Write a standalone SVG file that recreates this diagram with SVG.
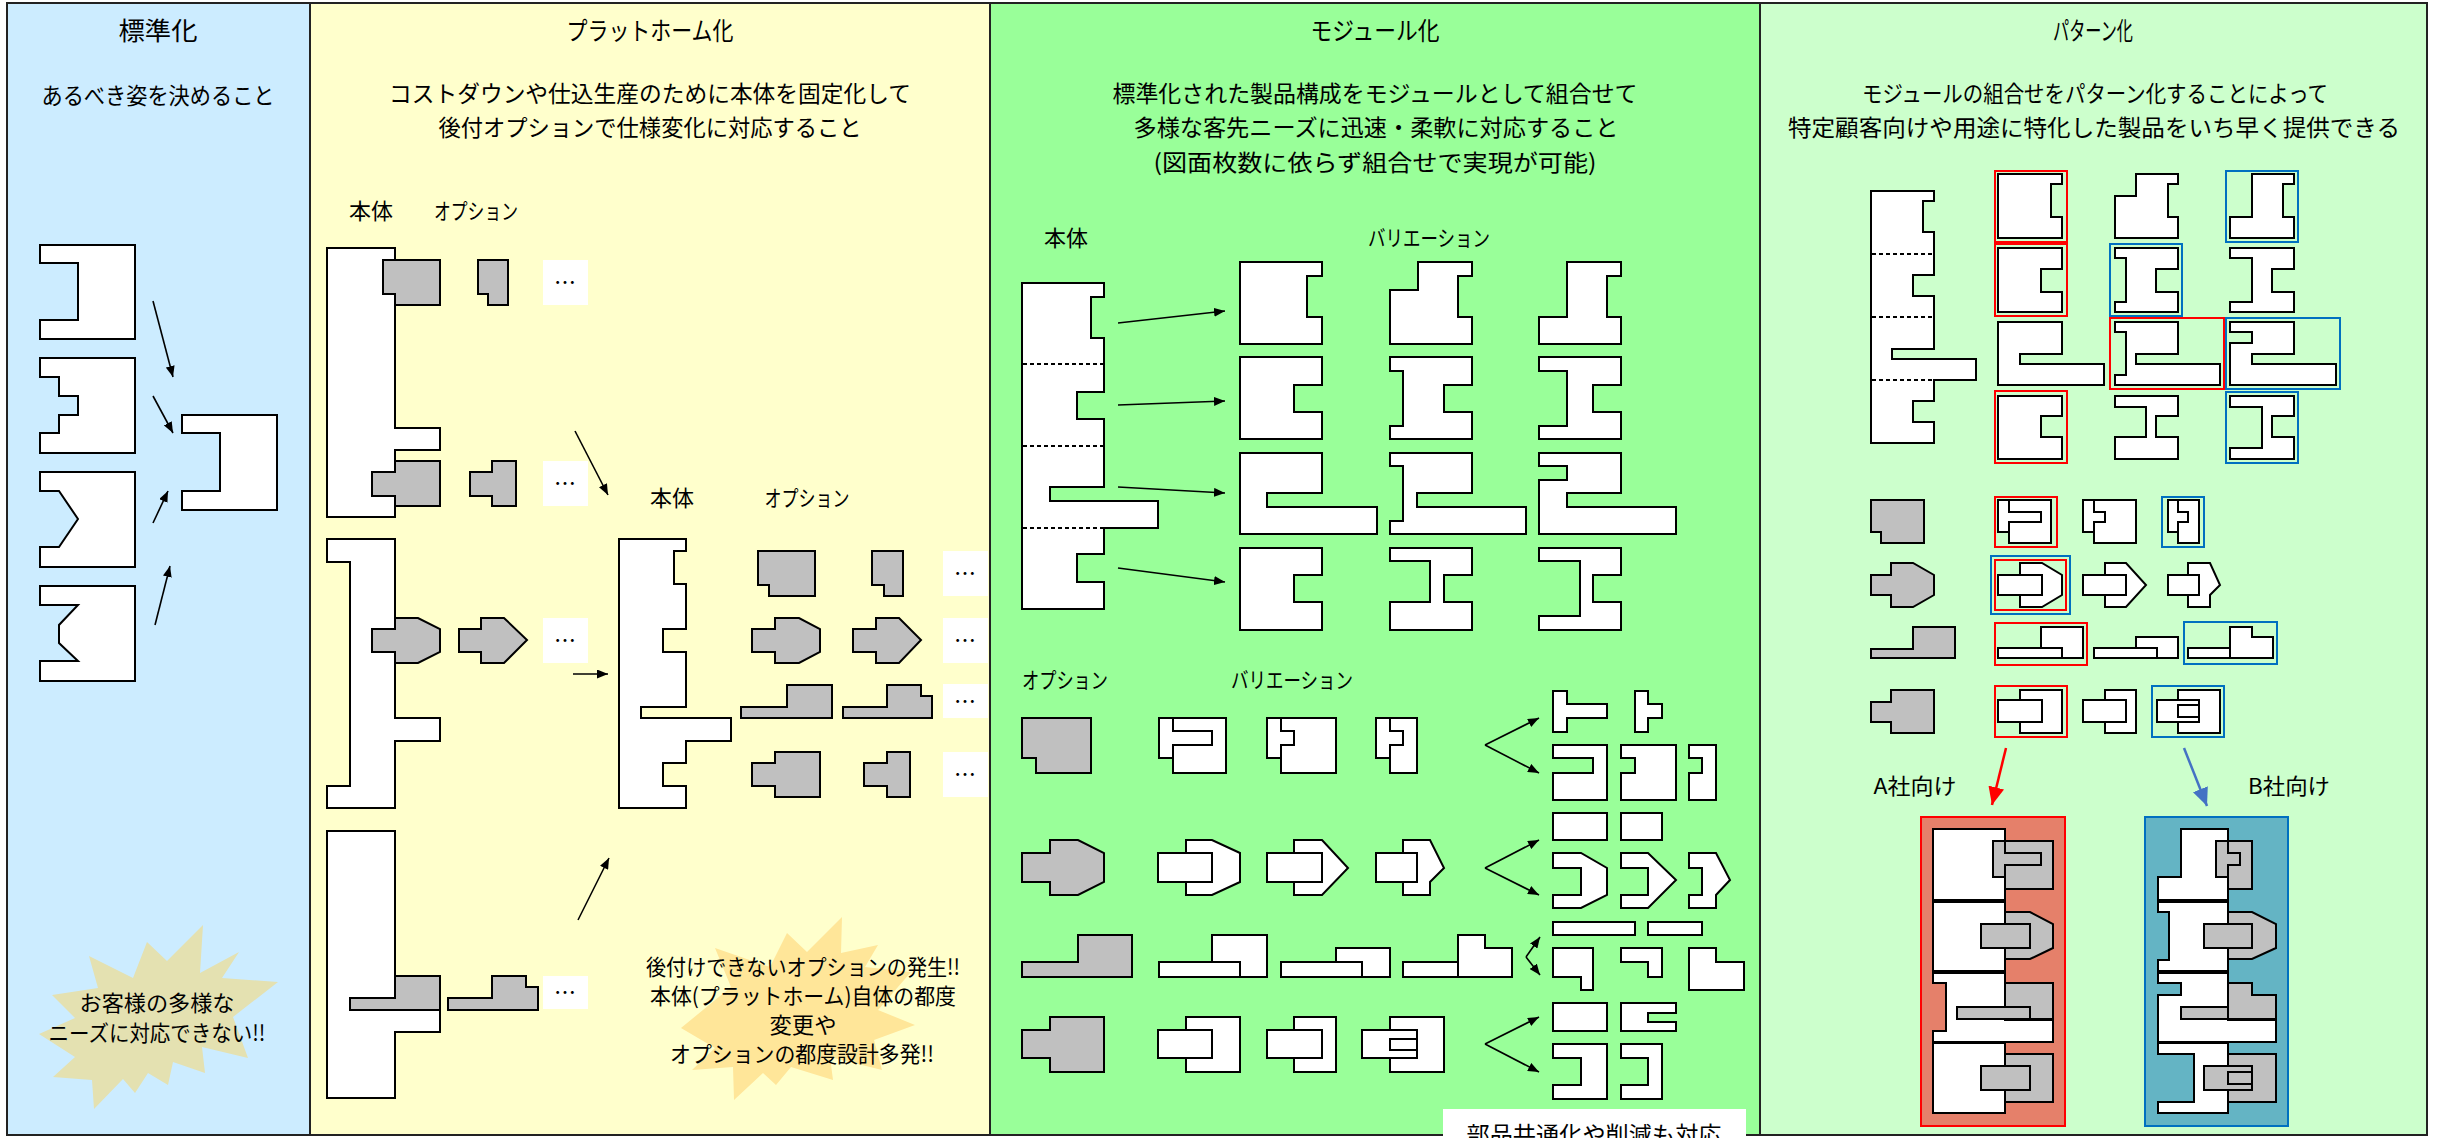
<svg xmlns="http://www.w3.org/2000/svg" width="2440" height="1138" viewBox="0 0 2440 1138">
<defs>
<style>
.pnl{stroke:#222;stroke-width:2}
.w{fill:#fff;stroke:#000;stroke-width:2}
.g{fill:#C0C0C0;stroke:#000;stroke-width:2}
.dash{stroke:#000;stroke-width:2;stroke-dasharray:4 3}
.t{font-family:"Noto Sans CJK JP","Noto Sans",sans-serif;fill:#000;text-anchor:middle}
.h{font-size:25px}
.s{font-size:23px}
.l{font-size:22px}
.dots{fill:#fff}
.dt{font-family:"Noto Sans CJK JP",sans-serif;font-size:22px;text-anchor:middle;fill:#000}
.ar{stroke:#000;stroke-width:1.6;fill:none;marker-end:url(#ah)}
.hr{fill:none;stroke:#FF0000;stroke-width:2}
.hb{fill:none;stroke:#0070C0;stroke-width:2}
</style>
<marker id="ah" markerUnits="userSpaceOnUse" markerWidth="11" markerHeight="9" refX="11" refY="4.5" orient="auto">
<path d="M0,0 L11,4.5 L0,9 z" fill="#000"/>
</marker>
<marker id="ahR" markerUnits="userSpaceOnUse" markerWidth="18" markerHeight="16" refX="18" refY="8" orient="auto">
<path d="M0,0 L18,8 L0,16 z" fill="#FF0000"/>
</marker>
<marker id="ahB" markerUnits="userSpaceOnUse" markerWidth="18" markerHeight="16" refX="18" refY="8" orient="auto">
<path d="M0,0 L18,8 L0,16 z" fill="#4472C4"/>
</marker>
</defs>

<!-- panel backgrounds -->
<g id="panels">
<rect class="pnl" x="7" y="3" width="303" height="1132" fill="#CCECFF"/>
<rect class="pnl" x="310" y="3" width="680" height="1132" fill="#FFFFCC"/>
<rect class="pnl" x="990" y="3" width="770" height="1132" fill="#99FF99"/>
<rect class="pnl" x="1760" y="3" width="667" height="1132" fill="#CCFFCC"/>
</g>

<!-- headings -->
<g id="headings">
<text class="t h" x="158" y="40" textLength="79" lengthAdjust="spacingAndGlyphs">標準化</text>
<text class="t s" x="158" y="104" textLength="233" lengthAdjust="spacingAndGlyphs">あるべき姿を決めること</text>
<text class="t h" x="650" y="40" textLength="167" lengthAdjust="spacingAndGlyphs">プラットホーム化</text>
<text class="t s" x="650" y="102" textLength="522" lengthAdjust="spacingAndGlyphs">コストダウンや仕込生産のために本体を固定化して</text>
<text class="t s" x="650" y="136" textLength="423" lengthAdjust="spacingAndGlyphs">後付オプションで仕様変化に対応すること</text>
<text class="t h" x="1375" y="40" textLength="129" lengthAdjust="spacingAndGlyphs">モジュール化</text>
<text class="t s" x="1375" y="102" textLength="525" lengthAdjust="spacingAndGlyphs">標準化された製品構成をモジュールとして組合せて</text>
<text class="t s" x="1376" y="136" textLength="485" lengthAdjust="spacingAndGlyphs">多様な客先ニーズに迅速・柔軟に対応すること</text>
<text class="t s" x="1375" y="171" textLength="443" lengthAdjust="spacingAndGlyphs">(図面枚数に依らず組合せで実現が可能)</text>
<text class="t h" x="2093" y="40" textLength="80" lengthAdjust="spacingAndGlyphs">パターン化</text>
<text class="t s" x="2095" y="102" textLength="466" lengthAdjust="spacingAndGlyphs">モジュールの組合せをパターン化することによって</text>
<text class="t s" x="2094" y="136" textLength="612" lengthAdjust="spacingAndGlyphs">特定顧客向けや用途に特化した製品をいち早く提供できる</text>
</g>

<!-- ============ panel 1 : standardisation ============ -->
<g id="std-shape-1"><polygon class="w" points="40,245 135,245 135,339 40,339 40,320 78,320 78,263 40,263"/></g>
<g id="std-shape-2"><polygon class="w" points="40,358 135,358 135,453 40,453 40,433 59,433 59,415 78,415 78,396 59,396 59,377 40,377"/></g>
<g id="std-shape-3"><polygon class="w" points="40,472 135,472 135,567 40,567 40,547 59,547 78,519 59,491 40,491"/></g>
<g id="std-shape-4"><polygon class="w" points="40,586 135,586 135,681 40,681 40,661 78,661 59,643 59,625 78,605 40,605"/></g>
<g id="std-target"><polygon class="w" points="182,415 277,415 277,510 182,510 182,491 220,491 220,433 182,433"/></g>
<g id="std-burst">
<polygon fill="#E4E1B1" points="203,925 200,973 239,952 222,978 278,982 233,1017 248,1058 202,1047 205,1073 173,1062 168,1085 148,1073 135,1093 123,1079 94,1109 92,1080 53,1077 75,1057 39,1034 75,1018 52,995 98,988 89,956 133,978 147,942 167,961"/>
<text class="t l" x="157" y="1011" textLength="155" lengthAdjust="spacingAndGlyphs">お客様の多様な</text>
<text class="t l" x="157" y="1041" textLength="217" lengthAdjust="spacingAndGlyphs">ニーズに対応できない!!</text>
</g>

<!-- ============ panel 2 : platform ============ -->
<g id="pf-labels">
<text class="t l" x="371" y="219">本体</text>
<text class="t l" x="476" y="219" textLength="84" lengthAdjust="spacingAndGlyphs">オプション</text>
<text class="t l" x="672" y="506">本体</text>
<text class="t l" x="807" y="506" textLength="85" lengthAdjust="spacingAndGlyphs">オプション</text>
</g>

<g id="pf-body-1">
<polygon class="w" points="327,248 395,248 395,428 440,428 440,450 395,450 395,517 327,517"/>
<polygon class="g" points="383,260 440,260 440,305 395,305 395,294 383,294"/>
<polygon class="g" points="395,461 440,461 440,506 395,506 395,496 372,496 372,472 395,472"/>
</g>
<g id="pf-opt-1a"><polygon class="g" points="478,260 508,260 508,305 488,305 488,294 478,294"/></g>
<g id="pf-opt-1b"><polygon class="g" points="492,461 516,461 516,506 492,506 492,496 470,496 470,472 492,472"/></g>

<g id="pf-body-2">
<polygon class="w" points="327,539 395,539 395,718 440,718 440,741 395,741 395,808 327,808 327,786 350,786 350,562 327,562"/>
<polygon class="g" points="372,629 395,629 395,618 418,618 440,629 440,652 418,663 395,663 395,652 372,652"/>
</g>
<g id="pf-opt-2"><polygon class="g" points="481,618 504,618 527,640 504,663 481,663 481,652 459,652 459,629 481,629"/></g>

<g id="pf-body-3">
<polygon class="w" points="327,831 395,831 395,1010 440,1010 440,1032 395,1032 395,1098 327,1098"/>
<polygon class="g" points="395,976 440,976 440,1010 350,1010 350,998 395,998"/>
</g>
<g id="pf-opt-3"><polygon class="g" points="492,976 526,976 526,987 538,987 538,1010 448,1010 448,998 492,998"/></g>

<g id="pf-more">
<rect class="dots" x="543" y="260" width="45" height="45"/><text class="dt" x="565" y="290">…</text>
<rect class="dots" x="543" y="461" width="45" height="45"/><text class="dt" x="565" y="491">…</text>
<rect class="dots" x="543" y="618" width="45" height="45"/><text class="dt" x="565" y="648">…</text>
<rect class="dots" x="543" y="976" width="45" height="33"/><text class="dt" x="565" y="1000">…</text>
<rect class="dots" x="943" y="551" width="45" height="45"/><text class="dt" x="965" y="581">…</text>
<rect class="dots" x="943" y="618" width="45" height="45"/><text class="dt" x="965" y="648">…</text>
<rect class="dots" x="943" y="684" width="45" height="34"/><text class="dt" x="965" y="709">…</text>
<rect class="dots" x="943" y="752" width="45" height="45"/><text class="dt" x="965" y="782">…</text>
</g>

<g id="pf-platform"><polygon class="w" points="619,539 686,539 686,551 674,551 674,584 686,584 686,629 663,629 663,652 686,652 686,707 641,707 641,718 731,718 731,741 686,741 686,763 663,763 663,786 686,786 686,808 619,808"/></g>

<g id="pf-options">
<polygon class="g" points="758,551 815,551 815,596 769,596 769,585 758,585"/>
<polygon class="g" points="872,551 903,551 903,596 884,596 884,585 872,585"/>
<polygon class="g" points="775,618 799,618 820,629 820,652 799,663 775,663 775,652 752,652 752,629 775,629"/>
<polygon class="g" points="876,618 899,618 921,640 899,663 876,663 876,652 853,652 853,629 876,629"/>
<polygon class="g" points="787,685 832,685 832,718 741,718 741,707 787,707"/>
<polygon class="g" points="887,685 921,685 921,696 932,696 932,718 843,718 843,707 887,707"/>
<polygon class="g" points="775,752 820,752 820,797 775,797 775,786 752,786 752,763 775,763"/>
<polygon class="g" points="887,752 910,752 910,797 887,797 887,786 864,786 864,763 887,763"/>
</g>

<g id="pf-burst">
<polygon fill="#FFE699" points="842,917 841,953 878,945 865,967 911,972 878,1010 915,1025 874,1040 882,1070 830,1057 833,1080 791,1067 776,1085 763,1073 734,1100 733,1067 692,1070 715,1048 681,1028 731,987 715,948 770,967 787,933 807,952"/>
<text class="t l" x="803" y="975" textLength="314" lengthAdjust="spacingAndGlyphs">後付けできないオプションの発生!!</text>
<text class="t l" x="803" y="1004" textLength="306" lengthAdjust="spacingAndGlyphs">本体(プラットホーム)自体の都度</text>
<text class="t l" x="803" y="1033" textLength="67" lengthAdjust="spacingAndGlyphs">変更や</text>
<text class="t l" x="802" y="1062" textLength="264" lengthAdjust="spacingAndGlyphs">オプションの都度設計多発!!</text>
</g>

<!-- ============ panel 3 : modularisation ============ -->
<g id="md-labels">
<text class="t l" x="1066" y="246">本体</text>
<text class="t l" x="1429" y="246" textLength="122" lengthAdjust="spacingAndGlyphs">バリエーション</text>
<text class="t l" x="1065" y="688" textLength="86" lengthAdjust="spacingAndGlyphs">オプション</text>
<text class="t l" x="1292" y="688" textLength="122" lengthAdjust="spacingAndGlyphs">バリエーション</text>
</g>

<g id="md-body">
<polygon class="w" points="1022,283 1104,283 1104,297 1091,297 1091,338 1104,338 1104,392 1077,392 1077,419 1104,419 1104,487 1050,487 1050,501 1158,501 1158,528 1104,528 1104,554 1077,554 1077,582 1104,582 1104,609 1022,609"/>
<line class="dash" x1="1023" y1="364" x2="1103" y2="364"/>
<line class="dash" x1="1023" y1="446" x2="1103" y2="446"/>
<line class="dash" x1="1023" y1="528" x2="1103" y2="528"/>
</g>

<g id="md-var-body">
<polygon class="w" points="1240,262 1322,262 1322,276 1307,276 1307,317 1322,317 1322,344 1240,344"/>
<polygon class="w" points="1418,262 1472,262 1472,276 1458,276 1458,317 1472,317 1472,344 1390,344 1390,290 1418,290"/>
<polygon class="w" points="1567,262 1621,262 1621,276 1607,276 1607,317 1621,317 1621,344 1539,344 1539,317 1567,317"/>
<polygon class="w" points="1240,357 1322,357 1322,385 1294,385 1294,412 1322,412 1322,439 1240,439"/>
<polygon class="w" points="1390,357 1472,357 1472,385 1444,385 1444,412 1472,412 1472,439 1390,439 1390,426 1403,426 1403,371 1390,371"/>
<polygon class="w" points="1539,357 1621,357 1621,385 1593,385 1593,412 1621,412 1621,439 1539,439 1539,426 1567,426 1567,371 1539,371"/>
<polygon class="w" points="1240,453 1322,453 1322,493 1267,493 1267,507 1377,507 1377,534 1240,534"/>
<polygon class="w" points="1390,453 1472,453 1472,493 1417,493 1417,507 1526,507 1526,534 1390,534 1390,521 1403,521 1403,466 1390,466"/>
<polygon class="w" points="1539,453 1621,453 1621,493 1567,493 1567,507 1676,507 1676,534 1539,534 1539,480 1567,480 1567,466 1539,466"/>
<polygon class="w" points="1240,548 1322,548 1322,575 1294,575 1294,602 1322,602 1322,630 1240,630"/>
<polygon class="w" points="1390,548 1472,548 1472,575 1444,575 1444,602 1472,602 1472,630 1390,630 1390,602 1430,602 1430,561 1390,561"/>
<polygon class="w" points="1539,548 1621,548 1621,575 1593,575 1593,602 1621,602 1621,630 1539,630 1539,616 1580,616 1580,561 1539,561"/>
</g>

<g id="md-opt-1">
<polygon class="g" points="1022,718 1091,718 1091,773 1036,773 1036,758 1022,758"/>
<polygon class="w" points="1173,718 1226,718 1226,773 1173,773 1173,745 1212,745 1212,731 1173,731"/>
<polygon class="w" points="1159,718 1173,718 1173,731 1212,731 1212,745 1173,745 1173,758 1159,758"/>
<polygon class="w" points="1281,718 1336,718 1336,773 1281,773 1281,745 1294,745 1294,731 1281,731"/>
<polygon class="w" points="1267,718 1281,718 1281,731 1294,731 1294,745 1281,745 1281,758 1267,758"/>
<polygon class="w" points="1390,718 1417,718 1417,773 1390,773 1390,745 1403,745 1403,731 1390,731"/>
<polygon class="w" points="1376,718 1390,718 1390,731 1403,731 1403,745 1390,745 1390,758 1376,758"/>
<polygon class="w" points="1553,691 1567,691 1567,704 1607,704 1607,718 1567,718 1567,732 1553,732"/>
<polygon class="w" points="1635,691 1648,691 1648,704 1662,704 1662,718 1648,718 1648,732 1635,732"/>
<polygon class="w" points="1553,745 1607,745 1607,800 1553,800 1553,773 1593,773 1593,758 1553,758"/>
<polygon class="w" points="1621,745 1676,745 1676,800 1621,800 1621,773 1635,773 1635,758 1621,758"/>
<polygon class="w" points="1689,745 1716,745 1716,800 1689,800 1689,773 1702,773 1702,758 1689,758"/>
</g>

<g id="md-opt-2">
<polygon class="g" points="1022,853 1050,853 1050,840 1078,840 1104,853 1104,882 1078,895 1050,895 1050,882 1022,882"/>
<polygon class="w" points="1186,840 1212,840 1240,853 1240,882 1212,895 1186,895 1186,882 1212,882 1212,853 1186,853"/>
<rect class="w" x="1158" y="853" width="54" height="29"/>
<polygon class="w" points="1294,840 1322,840 1348,868 1322,895 1294,895 1294,882 1322,882 1322,853 1294,853"/>
<rect class="w" x="1267" y="853" width="55" height="29"/>
<polygon class="w" points="1403,840 1430,840 1444,868 1430,882 1430,895 1403,895 1403,882 1417,882 1417,853 1403,853"/>
<rect class="w" x="1376" y="853" width="41" height="29"/>
<rect class="w" x="1553" y="813" width="54" height="27"/>
<rect class="w" x="1621" y="813" width="41" height="27"/>
<polygon class="w" points="1553,853 1581,853 1607,868 1607,895 1581,908 1553,908 1553,895 1581,895 1581,868 1553,868"/>
<polygon class="w" points="1621,853 1648,853 1676,880 1648,908 1621,908 1621,895 1648,895 1648,868 1621,868"/>
<polygon class="w" points="1689,853 1716,853 1730,880 1716,895 1716,908 1689,908 1689,895 1702,895 1702,868 1689,868"/>
</g>

<g id="md-opt-3">
<polygon class="g" points="1022,962 1078,962 1078,935 1132,935 1132,977 1022,977"/>
<polygon class="w" points="1212,935 1267,935 1267,977 1240,977 1240,962 1212,962"/>
<rect class="w" x="1159" y="962" width="81" height="15"/>
<polygon class="w" points="1336,948 1390,948 1390,977 1362,977 1362,962 1336,962"/>
<rect class="w" x="1281" y="962" width="81" height="15"/>
<polygon class="w" points="1458,935 1485,935 1485,948 1512,948 1512,977 1458,977"/>
<rect class="w" x="1403" y="962" width="55" height="15"/>
<rect class="w" x="1553" y="922" width="82" height="13"/>
<rect class="w" x="1648" y="922" width="54" height="13"/>
<polygon class="w" points="1553,948 1593,948 1593,990 1581,990 1581,977 1553,977"/>
<polygon class="w" points="1621,948 1662,948 1662,977 1648,977 1648,962 1621,962"/>
<polygon class="w" points="1689,948 1716,948 1716,962 1744,962 1744,990 1689,990"/>
</g>

<g id="md-opt-4">
<polygon class="g" points="1022,1030 1050,1030 1050,1017 1104,1017 1104,1072 1050,1072 1050,1058 1022,1058"/>
<polygon class="w" points="1186,1017 1240,1017 1240,1072 1186,1072 1186,1058 1212,1058 1212,1030 1186,1030"/>
<rect class="w" x="1158" y="1030" width="54" height="28"/>
<polygon class="w" points="1294,1017 1336,1017 1336,1072 1294,1072 1294,1058 1322,1058 1322,1030 1294,1030"/>
<rect class="w" x="1267" y="1030" width="55" height="28"/>
<polygon class="w" points="1390,1017 1444,1017 1444,1072 1390,1072 1390,1058 1417,1058 1417,1030 1390,1030"/>
<rect class="w" x="1362" y="1030" width="55" height="28"/>
<rect class="w" x="1390" y="1039" width="27" height="11"/>
<rect class="w" x="1553" y="1003" width="54" height="28"/>
<polygon class="w" points="1621,1003 1676,1003 1676,1013 1648,1013 1648,1022 1676,1022 1676,1031 1621,1031"/>
<polygon class="w" points="1553,1044 1607,1044 1607,1099 1553,1099 1553,1085 1581,1085 1581,1058 1553,1058"/>
<polygon class="w" points="1621,1044 1662,1044 1662,1099 1621,1099 1621,1085 1648,1085 1648,1058 1621,1058"/>
</g>

<g id="md-note">
<rect x="1443" y="1109" width="303" height="40" fill="#fff"/>
<text class="t s" x="1594" y="1143" textLength="255" lengthAdjust="spacingAndGlyphs">部品共通化や削減も対応</text>
</g>

<!-- ============ panel 4 : patterns ============ -->
<g id="pt-body">
<polygon class="w" points="1871,191 1934,191 1934,201 1923,201 1923,232 1934,232 1934,275 1913,275 1913,296 1934,296 1934,349 1892,349 1892,359 1976,359 1976,380 1934,380 1934,401 1913,401 1913,422 1934,422 1934,443 1871,443"/>
<line class="dash" x1="1872" y1="254" x2="1933" y2="254"/>
<line class="dash" x1="1872" y1="317" x2="1933" y2="317"/>
<line class="dash" x1="1872" y1="380" x2="1933" y2="380"/>
</g>

<g id="pt-var-body">
<polygon class="w" points="1998,174 2062,174 2062,184 2051,184 2051,217 2062,217 2062,238 1998,238"/>
<polygon class="w" points="2136,174 2178,174 2178,184 2168,184 2168,217 2178,217 2178,238 2115,238 2115,196 2136,196"/>
<polygon class="w" points="2252,174 2294,174 2294,184 2283,184 2283,217 2294,217 2294,238 2230,238 2230,217 2252,217"/>
<polygon class="w" points="1998,248 2062,248 2062,269 2041,269 2041,292 2062,292 2062,312 1998,312"/>
<polygon class="w" points="2115,248 2178,248 2178,269 2156,269 2156,292 2178,292 2178,312 2115,312 2115,302 2126,302 2126,258 2115,258"/>
<polygon class="w" points="2230,248 2294,248 2294,269 2272,269 2272,292 2294,292 2294,312 2230,312 2230,302 2252,302 2252,258 2230,258"/>
<polygon class="w" points="1998,322 2062,322 2062,354 2020,354 2020,364 2104,364 2104,385 1998,385"/>
<polygon class="w" points="2115,322 2178,322 2178,354 2136,354 2136,364 2220,364 2220,385 2115,385 2115,375 2126,375 2126,332 2115,332"/>
<polygon class="w" points="2230,322 2294,322 2294,354 2252,354 2252,364 2336,364 2336,385 2230,385 2230,343 2252,343 2252,332 2230,332"/>
<polygon class="w" points="1998,396 2062,396 2062,416 2041,416 2041,437 2062,437 2062,459 1998,459"/>
<polygon class="w" points="2115,396 2178,396 2178,416 2156,416 2156,437 2178,437 2178,459 2115,459 2115,437 2146,437 2146,407 2115,407"/>
<polygon class="w" points="2230,396 2294,396 2294,416 2272,416 2272,437 2294,437 2294,459 2230,459 2230,448 2262,448 2262,407 2230,407"/>
<rect class="hr" x="1995" y="171" width="72" height="71"/>
<rect class="hr" x="1995" y="244" width="72" height="72"/>
<rect class="hb" x="2110" y="244" width="72" height="72"/>
<rect class="hb" x="2226" y="171" width="72" height="71"/>
<rect class="hr" x="2110" y="318" width="114" height="71"/>
<rect class="hb" x="2226" y="318" width="114" height="71"/>
<rect class="hr" x="1995" y="391" width="72" height="72"/>
<rect class="hb" x="2226" y="392" width="72" height="71"/>
</g>

<g id="pt-opt-1">
<polygon class="g" points="1871,500 1924,500 1924,543 1881,543 1881,532 1871,532"/>
<polygon class="w" points="2009,500 2051,500 2051,543 2009,543 2009,522 2041,522 2041,512 2009,512"/>
<polygon class="w" points="1998,500 2009,500 2009,512 2041,512 2041,522 2009,522 2009,532 1998,532"/>
<polygon class="w" points="2094,500 2136,500 2136,543 2094,543 2094,522 2105,522 2105,512 2094,512"/>
<polygon class="w" points="2083,500 2094,500 2094,512 2105,512 2105,522 2094,522 2094,532 2083,532"/>
<polygon class="w" points="2178,500 2199,500 2199,543 2178,543 2178,522 2188,522 2188,512 2178,512"/>
<polygon class="w" points="2168,500 2178,500 2178,512 2188,512 2188,522 2178,522 2178,532 2168,532"/>
<rect class="hr" x="1995" y="497" width="62" height="50"/>
<rect class="hb" x="2162" y="497" width="42" height="50"/>
</g>

<g id="pt-opt-2">
<polygon class="g" points="1871,575 1891,575 1891,563 1913,563 1934,575 1934,595 1913,607 1891,607 1891,595 1871,595"/>
<polygon class="w" points="2020,563 2042,563 2062,575 2062,595 2042,607 2020,607 2020,595 2042,595 2042,575 2020,575"/>
<rect class="w" x="1998" y="575" width="44" height="20"/>
<polygon class="w" points="2105,563 2126,563 2146,585 2126,607 2105,607 2105,595 2126,595 2126,575 2105,575"/>
<rect class="w" x="2083" y="575" width="43" height="20"/>
<polygon class="w" points="2188,563 2210,563 2220,585 2210,595 2210,607 2188,607 2188,595 2199,595 2199,575 2188,575"/>
<rect class="w" x="2168" y="575" width="31" height="20"/>
<rect class="hr" x="1995" y="560" width="71" height="50"/>
<rect class="hb" x="1991" y="556" width="79" height="58"/>
</g>

<g id="pt-opt-3">
<polygon class="g" points="1913,627 1955,627 1955,658 1871,658 1871,649 1913,649"/>
<polygon class="w" points="2041,627 2083,627 2083,658 2062,658 2062,648 2041,648"/>
<rect class="w" x="1998" y="648" width="64" height="10"/>
<polygon class="w" points="2136,637 2178,637 2178,658 2157,658 2157,648 2136,648"/>
<rect class="w" x="2094" y="648" width="63" height="10"/>
<polygon class="w" points="2230,627 2252,627 2252,637 2273,637 2273,658 2230,658"/>
<rect class="w" x="2188" y="648" width="42" height="10"/>
<rect class="hr" x="1995" y="623" width="92" height="42"/>
<rect class="hb" x="2184" y="622" width="93" height="42"/>
</g>

<g id="pt-opt-4">
<polygon class="g" points="1871,702 1891,702 1891,690 1934,690 1934,733 1891,733 1891,722 1871,722"/>
<polygon class="w" points="2020,690 2062,690 2062,733 2020,733 2020,722 2042,722 2042,700 2020,700"/>
<rect class="w" x="1998" y="700" width="44" height="22"/>
<polygon class="w" points="2105,690 2136,690 2136,733 2105,733 2105,722 2126,722 2126,700 2105,700"/>
<rect class="w" x="2083" y="700" width="43" height="22"/>
<polygon class="w" points="2178,690 2220,690 2220,733 2178,733 2178,722 2199,722 2199,700 2178,700"/>
<rect class="w" x="2157" y="700" width="42" height="22"/>
<rect class="w" x="2178" y="705" width="21" height="12"/>
<rect class="hr" x="1995" y="686" width="72" height="51"/>
<rect class="hb" x="2152" y="686" width="72" height="51"/>
</g>

<g id="pt-labels">
<text class="t l" x="1915" y="794" textLength="83" lengthAdjust="spacingAndGlyphs">A社向け</text>
<text class="t l" x="2289" y="794" textLength="82" lengthAdjust="spacingAndGlyphs">B社向け</text>
</g>

<g id="pt-product-a">
<rect x="1921" y="817" width="144" height="309" fill="#E5806A" stroke="#FF0000" stroke-width="2"/>
<rect class="w" x="1933" y="829" width="72" height="71"/>
<polygon class="g" points="2005,841 2053,841 2053,889 2005,889 2005,865 2041,865 2041,853 2005,853"/>
<polygon class="g" points="1993,841 2005,841 2005,853 2041,853 2041,865 2005,865 2005,877 1993,877"/>
<rect class="w" x="1933" y="902" width="72" height="69"/>
<polygon class="g" points="2005,912 2030,912 2053,924 2053,948 2030,959 2005,959 2005,948 2030,948 2030,924 2005,924"/>
<rect class="g" x="1981" y="924" width="49" height="24"/>
<polygon class="w" points="1933,973 2005,973 2005,1020 2053,1020 2053,1042 1933,1042 1933,1031 1946,1031 1946,983 1933,983"/>
<polygon class="g" points="2005,983 2053,983 2053,1019 2030,1019 2030,1007 2005,1007"/>
<rect class="g" x="1957" y="1007" width="73" height="12"/>
<rect class="w" x="1933" y="1043" width="72" height="70"/>
<polygon class="g" points="2005,1054 2053,1054 2053,1102 2005,1102 2005,1090 2030,1090 2030,1066 2005,1066"/>
<rect class="g" x="1981" y="1066" width="49" height="24"/>
</g>

<g id="pt-product-b">
<rect x="2145" y="817" width="143" height="309" fill="#64B4C4" stroke="#0070C0" stroke-width="2"/>
<polygon class="w" points="2181,829 2228,829 2228,900 2158,900 2158,877 2181,877"/>
<polygon class="g" points="2228,841 2252,841 2252,889 2228,889 2228,865 2240,865 2240,853 2228,853"/>
<polygon class="g" points="2216,841 2228,841 2228,853 2240,853 2240,865 2228,865 2228,877 2216,877"/>
<polygon class="w" points="2158,902 2228,902 2228,971 2158,971 2158,960 2169,960 2169,912 2158,912"/>
<polygon class="g" points="2228,912 2252,912 2276,924 2276,948 2252,959 2228,959 2228,948 2252,948 2252,924 2228,924"/>
<rect class="g" x="2204" y="924" width="48" height="24"/>
<polygon class="w" points="2158,973 2228,973 2228,1020 2276,1020 2276,1042 2158,1042 2158,995 2181,995 2181,983 2158,983"/>
<polygon class="g" points="2228,983 2252,983 2252,995 2276,995 2276,1019 2228,1019"/>
<rect class="g" x="2181" y="1007" width="47" height="12"/>
<polygon class="w" points="2158,1043 2228,1043 2228,1113 2158,1113 2158,1102 2194,1102 2194,1054 2158,1054"/>
<polygon class="g" points="2228,1054 2276,1054 2276,1102 2228,1102 2228,1090 2252,1090 2252,1066 2228,1066"/>
<rect class="g" x="2204" y="1066" width="48" height="24"/>
<rect class="g" x="2228" y="1072" width="24" height="12"/>
</g>

<!-- connectors -->
<g id="connectors">
<line class="ar" x1="153" y1="301" x2="173" y2="377"/>
<line class="ar" x1="153" y1="396" x2="173" y2="433"/>
<line class="ar" x1="153" y1="523" x2="168" y2="491"/>
<line class="ar" x1="155" y1="625" x2="170" y2="566"/>
<line class="ar" x1="575" y1="431" x2="608" y2="495"/>
<line class="ar" x1="573" y1="674" x2="608" y2="674"/>
<line class="ar" x1="578" y1="920" x2="609" y2="858"/>
<line class="ar" x1="1118" y1="323" x2="1225" y2="311"/>
<line class="ar" x1="1118" y1="405" x2="1225" y2="401"/>
<line class="ar" x1="1118" y1="487" x2="1225" y2="493"/>
<line class="ar" x1="1118" y1="568" x2="1225" y2="582"/>
<line class="ar" x1="1485" y1="745" x2="1539" y2="718"/>
<line class="ar" x1="1485" y1="745" x2="1539" y2="773"/>
<line class="ar" x1="1485" y1="868" x2="1539" y2="840"/>
<line class="ar" x1="1485" y1="868" x2="1539" y2="895"/>
<line class="ar" x1="1526" y1="957" x2="1540" y2="937"/>
<line class="ar" x1="1526" y1="957" x2="1540" y2="975"/>
<line class="ar" x1="1485" y1="1044" x2="1539" y2="1017"/>
<line class="ar" x1="1485" y1="1044" x2="1539" y2="1072"/>
<line x1="2006" y1="748" x2="1992" y2="805" stroke="#FF0000" stroke-width="2.5" marker-end="url(#ahR)"/>
<line x1="2184" y1="748" x2="2207" y2="806" stroke="#4472C4" stroke-width="2.5" marker-end="url(#ahB)"/>
</g>
</svg>
